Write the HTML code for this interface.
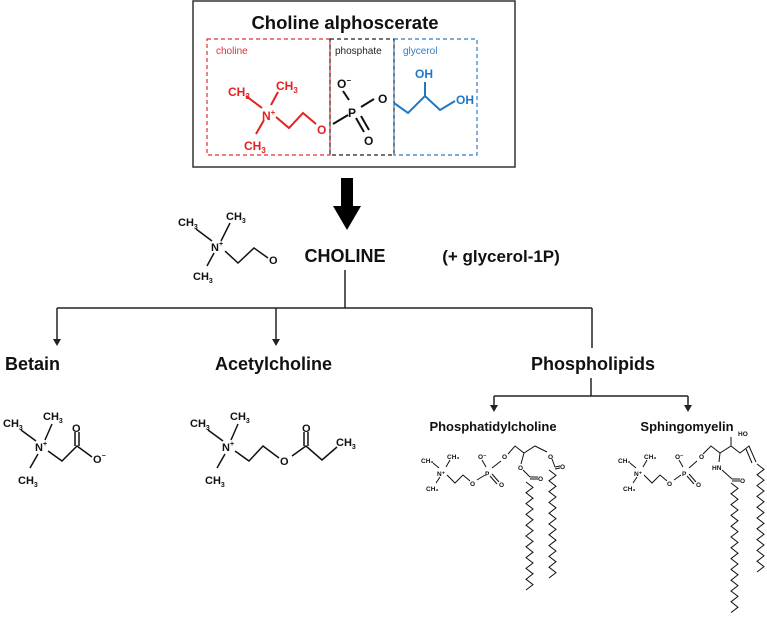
<!DOCTYPE html>
<html><head><meta charset="utf-8"><style>
html,body{margin:0;padding:0;background:#fff;}
svg{display:block;font-family:"Liberation Sans",Arial,sans-serif;}
</style></head><body>
<svg id="s" width="767" height="619" viewBox="0 0 767 619" xmlns="http://www.w3.org/2000/svg">
<rect x="0" y="0" width="767" height="619" fill="#fff"/>
<rect x="193" y="1" width="322" height="166" fill="#fff" stroke="#333" stroke-width="1.5"/>
<text x="345" y="29" font-size="18.5" font-weight="bold" text-anchor="middle" fill="#111">Choline alphoscerate</text>
<rect x="207" y="39" width="123" height="116" fill="none" stroke="#e53030" stroke-width="1.2" stroke-dasharray="4,3"/>
<rect x="330" y="39" width="64" height="116" fill="none" stroke="#222" stroke-width="1.2" stroke-dasharray="4,3"/>
<rect x="394" y="39" width="83" height="116" fill="none" stroke="#2f7cc4" stroke-width="1.2" stroke-dasharray="4,3"/>
<text x="216" y="54" font-size="10" fill="#e53030">choline</text>
<text x="335" y="54" font-size="10" fill="#222">phosphate</text>
<text x="403" y="54" font-size="10" fill="#2f7cc4">glycerol</text>
<g stroke="#e52020" stroke-width="2" fill="none">
<line x1="246" y1="96" x2="262" y2="108"/><line x1="278" y1="92" x2="271" y2="105"/><line x1="264" y1="120" x2="256" y2="134"/>
<polyline points="276,117 289,128 303,113 316,124"/>
</g>
<g fill="#e52020" font-size="12" font-weight="bold">
<text x="228" y="96">CH<tspan font-size="8" dy="3">3</tspan></text>
<text x="276" y="90">CH<tspan font-size="8" dy="3">3</tspan></text>
<text x="262" y="120">N<tspan font-size="8" dy="-5">+</tspan></text>
<text x="244" y="150">CH<tspan font-size="8" dy="3">3</tspan></text>
<text x="317" y="134">O</text>
</g>
<g stroke="#111" stroke-width="2" fill="none">
<line x1="333" y1="124" x2="348" y2="115"/><line x1="349" y1="100" x2="343" y2="91"/>
<line x1="361" y1="107" x2="374" y2="99"/><line x1="356" y1="118" x2="364" y2="132"/><line x1="361" y1="116" x2="369" y2="130"/>
</g>
<g fill="#111" font-size="12" font-weight="bold">
<text x="348" y="117">P</text><text x="337" y="88">O<tspan font-size="8" dy="-5">−</tspan></text>
<text x="378" y="103">O</text><text x="364" y="145">O</text>
</g>
<g stroke="#1e78c8" stroke-width="2" fill="none">
<polyline points="394,103 408,113 425,96 440,110 455,101"/><line x1="425" y1="96" x2="425" y2="82"/>
</g>
<g fill="#1e78c8" font-size="12" font-weight="bold">
<text x="415" y="78">OH</text><text x="456" y="104">OH</text>
</g>
<rect x="341" y="178" width="12" height="30" fill="#000"/>
<polygon points="333,206 361,206 347,230" fill="#000"/>
<g stroke="#111" stroke-width="1.5" fill="none">
<line x1="196" y1="229" x2="212" y2="241"/><line x1="230" y1="223" x2="221" y2="241"/><line x1="214" y1="253" x2="207" y2="266"/>
<polyline points="225,251 238,263 254,248 268,258"/>
</g>
<g fill="#111" font-size="11" font-weight="bold">
<text x="178" y="226">CH<tspan font-size="7" dy="3">3</tspan></text>
<text x="226" y="220">CH<tspan font-size="7" dy="3">3</tspan></text>
<text x="211" y="251">N<tspan font-size="7" dy="-5">+</tspan></text>
<text x="193" y="280">CH<tspan font-size="7" dy="3">3</tspan></text>
<text x="269" y="264">O</text>
</g>
<text x="345" y="262" font-size="18" font-weight="bold" text-anchor="middle" fill="#111">CHOLINE</text>
<text x="501" y="262" font-size="17" font-weight="bold" text-anchor="middle" fill="#111">(+ glycerol-1P)</text>
<g stroke="#222" stroke-width="1.5" fill="none">
<line x1="345" y1="270" x2="345" y2="308"/><line x1="57" y1="308" x2="592" y2="308"/>
<line x1="57" y1="308" x2="57" y2="340"/><line x1="276" y1="308" x2="276" y2="340"/><line x1="592" y1="308" x2="592" y2="348"/>
<line x1="591" y1="378" x2="591" y2="396"/><line x1="494" y1="396" x2="688" y2="396"/>
<line x1="494" y1="396" x2="494" y2="406"/><line x1="688" y1="396" x2="688" y2="406"/>
</g>
<g fill="#222">
<polygon points="53,339 61,339 57,346"/><polygon points="272,339 280,339 276,346"/>
<polygon points="490,405 498,405 494,412"/><polygon points="684,405 692,405 688,412"/>
</g>
<g fill="#111" font-size="18" font-weight="bold">
<text x="5" y="370">Betain</text><text x="215" y="370">Acetylcholine</text>
<text x="593" y="370" text-anchor="middle">Phospholipids</text>
</g>
<text x="493" y="431" font-size="13" font-weight="bold" text-anchor="middle" fill="#111">Phosphatidylcholine</text>
<text x="687" y="431" font-size="13" font-weight="bold" text-anchor="middle" fill="#111">Sphingomyelin</text>
<g stroke="#111" stroke-width="1.5" fill="none">
<line x1="21" y1="430" x2="36" y2="441"/><line x1="52" y1="424" x2="45" y2="440"/><line x1="38" y1="454" x2="30" y2="468"/>
<polyline points="48,451 62,461 77,446 92,457"/><line x1="75" y1="446" x2="75" y2="432"/><line x1="79" y1="446" x2="79" y2="432"/>
</g>
<g fill="#111" font-size="11" font-weight="bold">
<text x="3" y="427">CH<tspan font-size="7" dy="3">3</tspan></text>
<text x="43" y="420">CH<tspan font-size="7" dy="3">3</tspan></text>
<text x="35" y="451">N<tspan font-size="7" dy="-5">+</tspan></text>
<text x="18" y="484">CH<tspan font-size="7" dy="3">3</tspan></text>
<text x="72" y="432">O</text><text x="93" y="463">O<tspan font-size="7" dy="-5">−</tspan></text>
</g>
<g stroke="#111" stroke-width="1.5" fill="none">
<line x1="208" y1="430" x2="223" y2="441"/><line x1="238" y1="424" x2="231" y2="440"/><line x1="225" y1="454" x2="217" y2="468"/>
<polyline points="235,451 249,461 263,446 279,458"/><polyline points="292,456 306,446 322,460 337,447"/>
<line x1="304" y1="446" x2="304" y2="432"/><line x1="308" y1="446" x2="308" y2="432"/>
</g>
<g fill="#111" font-size="11" font-weight="bold">
<text x="190" y="427">CH<tspan font-size="7" dy="3">3</tspan></text>
<text x="230" y="420">CH<tspan font-size="7" dy="3">3</tspan></text>
<text x="222" y="451">N<tspan font-size="7" dy="-5">+</tspan></text>
<text x="205" y="484">CH<tspan font-size="7" dy="3">3</tspan></text>
<text x="280" y="465">O</text><text x="302" y="432">O</text>
<text x="336" y="446">CH<tspan font-size="7" dy="3">3</tspan></text>
</g>
<g stroke="#111" stroke-width="1" fill="none">
<line x1="433" y1="463" x2="439" y2="468"/><line x1="450" y1="460" x2="446" y2="467"/><line x1="440" y1="477" x2="436" y2="483"/>
<polyline points="447,475 455,483 463,475 470,481"/>
<line x1="477" y1="480" x2="485" y2="475"/><line x1="486" y1="467" x2="482" y2="460"/>
<line x1="490" y1="476" x2="497" y2="484"/><line x1="492" y1="474" x2="499" y2="482"/>
<polyline points="492,468 501,461"/><polyline points="508,454 515,446 524,453 535,446 547,452"/>
<line x1="524" y1="453" x2="521" y2="464"/><line x1="523" y1="470" x2="530" y2="477"/><line x1="530" y1="477" x2="538" y2="477"/><line x1="530" y1="479" x2="538" y2="479"/>
<line x1="552" y1="459" x2="555" y2="467"/><line x1="555" y1="467" x2="560" y2="466"/><line x1="555" y1="469" x2="560" y2="468"/>
<polyline id="c1" points=""/><polyline id="c2" points=""/>
</g>
<g fill="#111" font-size="6.5" font-weight="bold">
<text x="421" y="463">CH₃</text><text x="447" y="459">CH₃</text><text x="437" y="476">N⁺</text><text x="426" y="491">CH₃</text>
<text x="470" y="486">O</text><text x="485" y="476">P</text><text x="478" y="459">O⁻</text><text x="499" y="487">O</text>
<text x="502" y="459">O</text><text x="548" y="459">O</text><text x="518" y="470">O</text>
<text x="538" y="481">O</text><text x="560" y="469">O</text>
</g>
<g stroke="#111" stroke-width="1" fill="none">
<line x1="630" y1="463" x2="636" y2="468"/><line x1="647" y1="460" x2="643" y2="467"/><line x1="637" y1="477" x2="633" y2="483"/>
<polyline points="644,475 652,483 660,475 667,481"/>
<line x1="674" y1="480" x2="681" y2="475"/><line x1="683" y1="467" x2="679" y2="460"/>
<line x1="687" y1="476" x2="694" y2="484"/><line x1="689" y1="474" x2="696" y2="482"/>
<line x1="689" y1="468" x2="697" y2="461"/>
<polyline points="703,454 711,446 720,453 731,446 740,453 749,446 756,462"/><line x1="746" y1="449" x2="752" y2="463"/>
<line x1="731" y1="446" x2="731" y2="437"/><line x1="720" y1="453" x2="719" y2="462"/>
<line x1="722" y1="470" x2="732" y2="479"/><line x1="732" y1="479" x2="740" y2="479"/><line x1="732" y1="481" x2="740" y2="481"/>
<polyline id="c3" points=""/><polyline id="c4" points=""/>
</g>
<g fill="#111" font-size="6.5" font-weight="bold">
<text x="618" y="463">CH₃</text><text x="644" y="459">CH₃</text><text x="634" y="476">N⁺</text><text x="623" y="491">CH₃</text>
<text x="667" y="486">O</text><text x="682" y="476">P</text><text x="675" y="459">O⁻</text><text x="696" y="487">O</text>
<text x="699" y="459">O</text><text x="738" y="436">HO</text><text x="712" y="470">HN</text><text x="740" y="483">O</text>
</g>
<script>
function zz(id,x,y0,y1,w,s){var p=[],i=0;for(var y=y0;y<=y1;y+=s){p.push((x+(i%2?w:0))+","+y);i++;}document.getElementById(id).setAttribute("points",p.join(" "));}
zz("c1",526,482,590,7,5.4);zz("c2",549,470,582,7,5.4);
zz("c3",731,483,616,7,5.4);zz("c4",757,464,577,7,5.4);
</script>
</svg>
</body></html>
